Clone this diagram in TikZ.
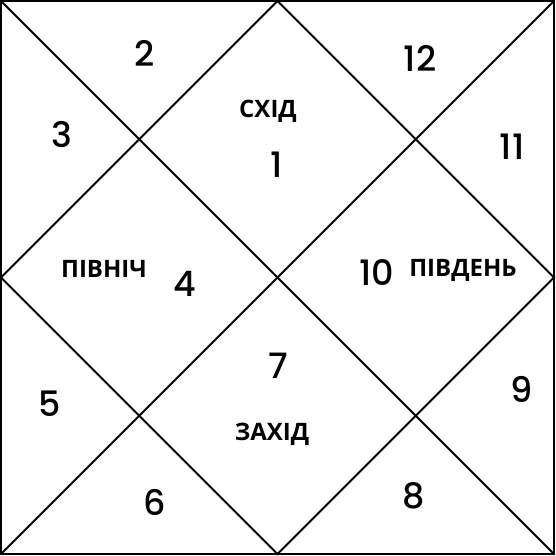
\documentclass[tikz,border=0pt]{standalone}
\usepackage{fontspec}
\setmainfont{Poppins}[UprightFont=* Medium]
\newfontfamily\dirfont{Open Sans}
\usetikzlibrary{calc}

\tikzset{
  house/.style={anchor=base,inner sep=0pt,font=\fontsize{35}{35}\selectfont},
  side/.style={anchor=base,inner sep=0pt,font=\dirfont\bfseries\fontsize{24}{24}\selectfont}
}

\begin{document}
\begin{tikzpicture}[x=1pt,y=-1pt]
\useasboundingbox (0,0) rectangle (556,556);
\fill[white] (0,0) rectangle (556,556);
\draw[line width=2pt] (1,1) rectangle (554,554);
\draw[line width=2pt] (1,1) -- (554,554);
\draw[line width=2pt] (554,1) -- (1,554);
\draw[line width=2pt] (277.5,1) -- (554,277.5) -- (277.5,554) -- (1,277.5) -- cycle;
% houses
\node[house] (h1) at (277,177) {1};
\node[house] (h2) at (145,67) {2};
\node[house] (h3) at (62,148) {3};
\node[house] (h4) at (185,296) {4};
\node[house] (h5) at (50,416) {5};
\node[house] (h6) at (155,515) {6};
\node[house] (h7) at (278,378) {7};
\node[house] (h8) at (414,508) {8};
\node[house] (h9) at (522,402) {9};
\node[house] (h10) at (377,285) {10};
\node[house] (h11) at (512,160) {11};
\node[house] (h12) at (420,72) {12};
% sides
\node[side] (east) at (268,118) {СХІД};
\node[side] (north) at (104,277) {ПІВНІЧ};
\node[side] (south) at (463,276) {ПІВДЕНЬ};
\node[side] (west) at (272,440) {ЗАХІД};
\end{tikzpicture}
\end{document}
